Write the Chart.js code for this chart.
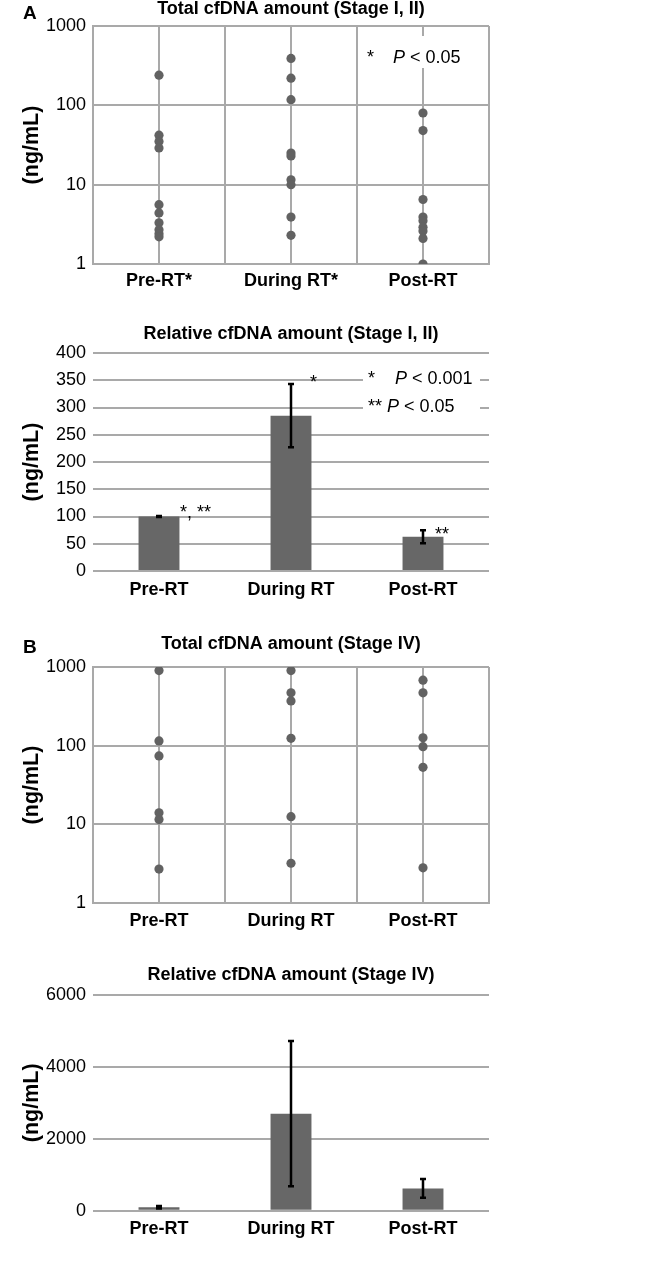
<!DOCTYPE html>
<html>
<head>
<meta charset="utf-8">
<script src="https://cdn.jsdelivr.net/npm/chart.js@4.4.0/dist/chart.umd.min.js"></script>
<style>
  body { margin: 0; background: #fff; }
  #wrap { position: relative; width: 650px; height: 1276px; }
  canvas { position: absolute; left: 0; }
</style>
</head>
<body>
<div id="wrap">
  <canvas id="totalA" width="650" height="300" style="top:0px"></canvas>
  <canvas id="relA" width="650" height="310" style="top:300px"></canvas>
  <canvas id="totalB" width="650" height="330" style="top:610px"></canvas>
  <canvas id="relB" width="650" height="336" style="top:940px"></canvas>
</div>
<script>
// categories / tick labels
const catsTotalA = ["Pre-RT*", "During RT*", "Post-RT"];
const cats = ["Pre-RT", "During RT", "Post-RT"];
const logTicks = [1, 10, 100, 1000];
const xGridTicks = [0, 0.5, 1, 1.5, 2, 2.5, 3];
const relTicksA = [0, 50, 100, 150, 200, 250, 300, 350, 400];
const relTicksB = [0, 2000, 4000, 6000];

// Stage I, II
const totalPreA = [240, 42, 35, 29, 5.6, 4.4, 3.3, 2.7, 2.4, 2.2];
const totalDuringA = [390, 220, 118, 25, 23, 11.5, 10, 3.9, 2.3];
const totalPostA = [80, 48, 6.5, 3.9, 3.5, 2.9, 2.6, 2.1, 1.0];
const relA = [100, 285, 63];
const relErrA = [1, 58, 12];

// Stage IV
const totalPreB = [900, 115, 74, 14, 11.5, 2.7];
const totalDuringB = [900, 470, 370, 124, 12.5, 3.2];
const totalPostB = [680, 470, 126, 97, 53, 2.8];
const relB = [95, 2700, 620];
const relErrB = [35, 2020, 260];

const FONT = "'Liberation Sans', Arial, sans-serif";
const GRID = "#a9a9a9";
const DOT = "#626262";
const BAR = "#676767";

Chart.defaults.font.family = FONT;
Chart.defaults.color = "#000";
Chart.defaults.animation = false;

// error bars drawn through the y scale
const errorBars = {
  id: "errorBars",
  afterDatasetsDraw(chart, args, opts) {
    if (!opts.errors) return;
    const ctx = chart.ctx;
    const y = chart.scales.y;
    const meta = chart.getDatasetMeta(0);
    const vals = chart.data.datasets[0].data;
    ctx.save();
    ctx.strokeStyle = "#000";
    ctx.lineWidth = 2.5;
    meta.data.forEach((bar, i) => {
      const top = y.getPixelForValue(vals[i] + opts.errors[i]);
      const bot = y.getPixelForValue(vals[i] - opts.errors[i]);
      ctx.beginPath();
      ctx.moveTo(bar.x, top); ctx.lineTo(bar.x, bot);
      ctx.moveTo(bar.x - 3, top); ctx.lineTo(bar.x + 3, top);
      ctx.moveTo(bar.x - 3, bot); ctx.lineTo(bar.x + 3, bot);
      ctx.stroke();
    });
    ctx.restore();
  }
};

// text notes (panel letters, significance marks)
const notes = {
  id: "notes",
  afterDraw(chart, args, opts) {
    const ctx = chart.ctx;
    ctx.save();
    if (opts.mask) {
      ctx.fillStyle = "#fff";
      ctx.fillRect(...opts.mask);
    }
    ctx.fillStyle = "#000";
    ctx.textBaseline = "alphabetic";
    (opts.items || []).forEach(it => {
      let x = it.x;
      it.parts.forEach(p => {
        ctx.font = (p.italic ? "italic " : "") + (p.bold ? "bold " : "") + (p.size || 18) + "px " + FONT;
        ctx.fillText(p.t, x, it.y);
        x += ctx.measureText(p.t).width;
      });
    });
    ctx.restore();
  }
};

function yTitle() {
  return { display: true, text: "(ng/mL)", font: { size: 21.5, weight: "bold", lineHeight: 1.2 }, padding: { top: 19, bottom: 0 } };
}

function titleOpt(text, pb) {
  return { display: true, text: text, fullSize: false, font: { size: 18, weight: "bold", lineHeight: 1.0 }, padding: { top: 0, bottom: pb }, color: "#000" };
}

function scatterChart(id, title, labels, series, lay, noteOpts) {
  const datasets = series.map((vals, i) => ({
    data: vals.map(v => ({ x: i + 0.5, y: v })),
    backgroundColor: DOT,
    borderWidth: 0,
    pointRadius: 4.6
  }));
  return new Chart(document.getElementById(id), {
    type: "scatter",
    data: { datasets: datasets },
    options: {
      responsive: false,
      layout: { padding: { top: lay.padTop, right: 161, left: 0, bottom: 0 } },
      plugins: { legend: { display: false }, tooltip: { enabled: false }, title: titleOpt(title, lay.titlePad), notes: noteOpts },
      scales: {
        x: {
          type: "linear", min: 0, max: 3,
          afterBuildTicks: s => { s.ticks = xGridTicks.map(v => ({ value: v })); },
          afterFit: s => { s.height = lay.xh; },
          grid: { color: GRID, lineWidth: 2, drawTicks: false },
          border: { color: GRID, width: 2 },
          ticks: {
            autoSkip: false, maxRotation: 0, minRotation: 0, padding: lay.tp,
            font: { size: 18, weight: "bold" },
            callback: v => (v % 1 === 0.5 ? labels[Math.floor(v)] : "")
          }
        },
        y: {
          type: "logarithmic", min: 1, max: 1000,
          afterBuildTicks: s => { s.ticks = logTicks.map(v => ({ value: v })); },
          afterFit: s => { s.width = 93; },
          grid: { color: GRID, lineWidth: 2, drawTicks: false },
          border: { color: GRID, width: 2 },
          ticks: { padding: 7, font: { size: 18 }, callback: v => String(v) },
          title: yTitle()
        }
      }
    },
    plugins: [notes]
  });
}

function barChart(id, title, values, errs, yTicks, lay, noteOpts) {
  return new Chart(document.getElementById(id), {
    type: "bar",
    data: {
      labels: cats,
      datasets: [{ data: values, backgroundColor: BAR, borderWidth: 0, categoryPercentage: 1, barPercentage: 0.31 }]
    },
    options: {
      responsive: false,
      layout: { padding: { top: lay.padTop, right: 161, left: 0, bottom: 0 } },
      plugins: { legend: { display: false }, tooltip: { enabled: false }, title: titleOpt(title, lay.titlePad), errorBars: { errors: errs }, notes: noteOpts },
      scales: {
        x: {
          afterFit: s => { s.height = lay.xh; },
          grid: { display: false, drawTicks: false },
          border: { display: false },
          ticks: { padding: lay.tp, font: { size: 18, weight: "bold" } }
        },
        y: {
          min: yTicks[0], max: yTicks[yTicks.length - 1],
          afterBuildTicks: s => { s.ticks = yTicks.map(v => ({ value: v })); },
          afterFit: s => { s.width = 93; },
          grid: { color: GRID, lineWidth: 2, drawTicks: false },
          border: { display: false },
          ticks: { padding: 7, font: { size: 18 }, callback: v => String(v) },
          title: yTitle()
        }
      }
    },
    plugins: [errorBars, notes]
  });
}

scatterChart("totalA", "Total cfDNA amount (Stage I, II)", catsTotalA,
  [totalPreA, totalDuringA, totalPostA],
  { padTop: 0, titlePad: 8, xh: 36, tp: 6 },
  {
    mask: [362, 36, 110, 32],
    items: [
      { x: 23, y: 19, parts: [{ t: "A", bold: true, size: 19 }] },
      { x: 367, y: 63, parts: [{ t: "*" }] },
      { x: 393, y: 63, parts: [{ t: "P", italic: true }, { t: " < 0.05" }] }
    ]
  });

barChart("relA", "Relative cfDNA amount (Stage I, II)", relA, relErrA, relTicksA,
  { padTop: 25.5, titlePad: 9.5, xh: 39, tp: 8 },
  {
    mask: [363, 64, 117, 54],
    items: [
      { x: 368, y: 84, parts: [{ t: "*" }] },
      { x: 395, y: 84, parts: [{ t: "P", italic: true }, { t: " < 0.001" }] },
      { x: 368, y: 112, parts: [{ t: "** " }, { t: "P", italic: true }, { t: " < 0.05" }] },
      { x: 310, y: 88, parts: [{ t: "*" }] },
      { x: 180, y: 218, parts: [{ t: "*, **" }] },
      { x: 435, y: 240, parts: [{ t: "**" }] }
    ]
  });

scatterChart("totalB", "Total cfDNA amount (Stage IV)", cats,
  [totalPreB, totalDuringB, totalPostB],
  { padTop: 25.5, titlePad: 13.5, xh: 37, tp: 7 },
  { items: [{ x: 23, y: 43, parts: [{ t: "B", bold: true, size: 19 }] }] });

barChart("relB", "Relative cfDNA amount (Stage IV)", relB, relErrB, relTicksB,
  { padTop: 26, titlePad: 11, xh: 65.3, tp: 8 },
  { items: [] });
</script>
</body>
</html>
